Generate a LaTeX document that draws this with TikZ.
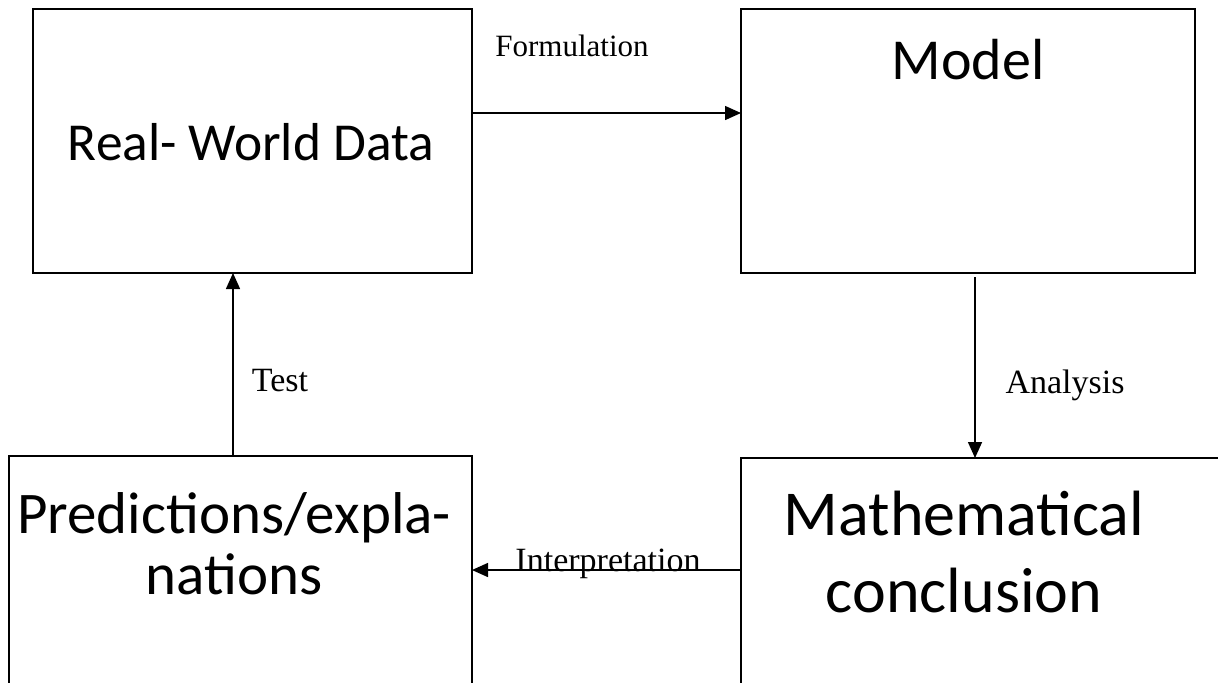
\documentclass[tikz,border=0pt]{standalone}
\usepackage{fontspec}
\setmainfont{Carlito}
\newfontfamily\edgefont{Liberation Serif}
\usetikzlibrary{arrows.meta}

\begin{document}
\begin{tikzpicture}[x=0.5pt,y=-0.5pt,
    box/.style={draw, line width=1pt, inner sep=0pt},
    boxtext/.style={align=center},
    edgetext/.style={font=\edgefont\fontsize{17}{20}\selectfont},
    flow/.style={line width=0.75pt, -{Triangle[length=8pt,width=7pt]}}]
        \useasboundingbox (0,0) rectangle (1218,682);
        \clip (0,0) rectangle (1218,682);

        % boxes
        \node[box, minimum width=219.5pt, minimum height=132pt] (data) at (252.5,141) {};
        \node[box, minimum width=227pt, minimum height=132pt] (model) at (968,141) {};
        \node[box, minimum width=231.5pt, minimum height=132pt] (pred) at (240.5,588) {};
        \node[box, minimum width=244.5pt, minimum height=132pt] (concl) at (985.5,590) {};

        \node[boxtext, font=\fontsize{26.7}{32}\selectfont] (datatext) at (251,142) {Real- World Data};
        \node[boxtext, font=\fontsize{29}{35}\selectfont] (modeltext) at (968,60) {Model};
        \node[boxtext, font=\fontsize{29.5}{30.5}\selectfont] (predtext) at (234,544) {Predictions/expla-\\nations};
        \node[boxtext, font=\fontsize{32}{38.5}\selectfont] (concltext) at (964,552) {Mathematical\\conclusion};

        % arrows
        \coordinate (formA) at (472,113);
        \coordinate (formB) at (741,113);
        \draw[flow] (formA) -- (formB);
        \node[edgetext, font=\edgefont\fontsize{15.5}{18}\selectfont] (form) at (572,46) {Formulation};

        \coordinate (anaA) at (975,277);
        \coordinate (anaB) at (975,458);
        \draw[flow] (anaA) -- (anaB);
        \node[edgetext] (ana) at (1065,385) {Analysis};

        \coordinate (intA) at (741,570);
        \coordinate (intB) at (472,570);
        \draw[flow] (intA) -- (intB);
        \node[edgetext] (inter) at (608,564) {Interpretation};

        \coordinate (testA) at (233,456);
        \coordinate (testB) at (233,273);
        \draw[flow] (testA) -- (testB);
        \node[edgetext] (test) at (280,381) {Test};
\end{tikzpicture}
\end{document}
